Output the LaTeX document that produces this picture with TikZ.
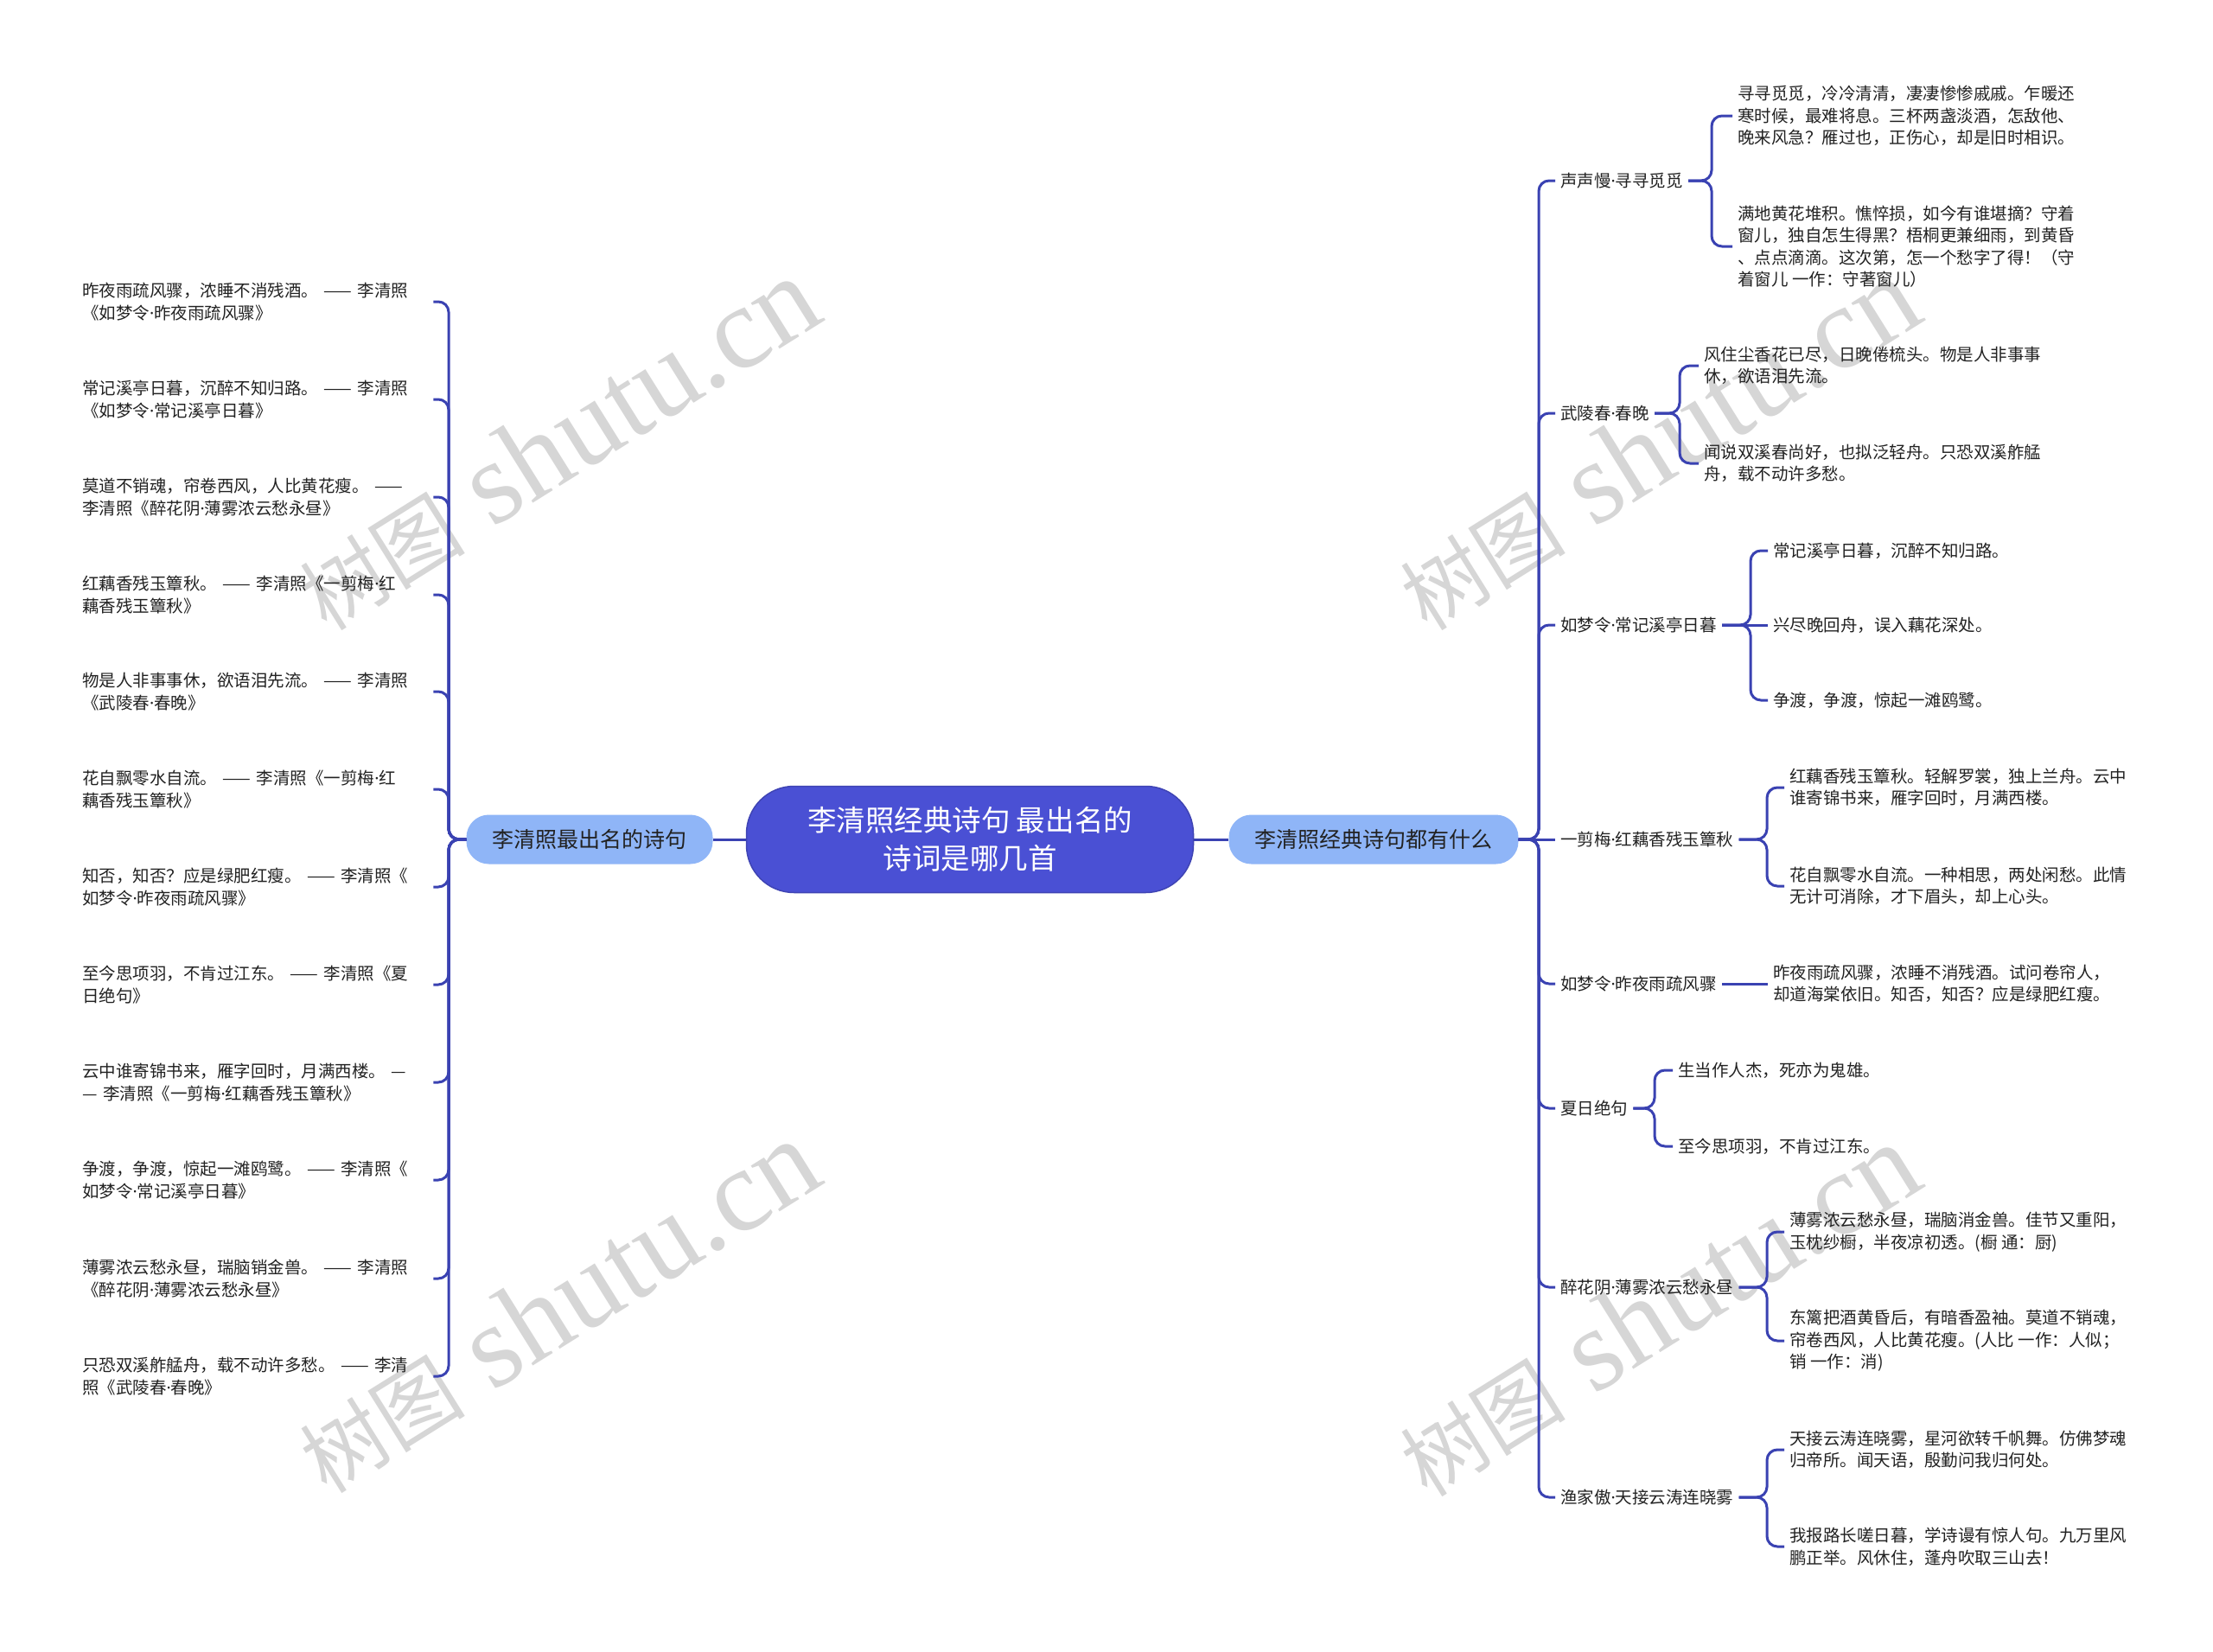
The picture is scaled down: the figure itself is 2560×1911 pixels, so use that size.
\documentclass[tikz,border=0pt]{standalone}
\usepackage{fontspec}
\setmainfont{Noto Sans CJK SC}
\newfontfamily\wmfont{Liberation Serif}
\newfontfamily\dotfont{Noto Sans}
\newcommand\mdot{{\dotfont ·}}
\usetikzlibrary{positioning}
\definecolor{hubblue}{RGB}{74,80,212}
\definecolor{subblue}{RGB}{143,181,247}
\definecolor{linkblue}{RGB}{58,66,178}
\definecolor{txt}{RGB}{34,34,34}

\begin{document}
\begin{tikzpicture}[x=1pt, y=-1pt,
	hub/.style = {rectangle, rounded corners=55pt, draw=hubblue!85!black, fill=hubblue, text=white, line width=1.5pt, minimum width=517pt, minimum height=123pt, align=center, font=\fontsize{33.5}{44}\selectfont},
	sub/.style = {rectangle, rounded corners=26pt, fill=subblue, text=txt, inner xsep=30pt, minimum height=57pt, font=\fontsize{25}{30}\selectfont},
	lbl/.style = {anchor=west, inner xsep=6pt, text=txt, font=\fontsize{19.5}{25.5}\selectfont},
	leaf/.style = {lbl, align=left},
	lleaf/.style = {leaf, inner xsep=8pt, text width=398pt},
	r/.style = {draw=linkblue, line width=3pt, rounded corners=12pt},
	wm/.style = {text=black!16, rotate=32, inner sep=0pt}
	]

	\path[use as bounding box, fill=white] (0,0) rectangle (2560,1911);

	% ===== ===== ===== ===== =====

	% Watermarks
	\node[wm]	(wm1)	at	(645, 514)	{{\fontsize{96}{96}\selectfont 树图}{\wmfont\fontsize{136}{136}\selectfont ~shutu.cn}};
	\node[wm]	(wm2)	at	(1918, 514)	{{\fontsize{96}{96}\selectfont 树图}{\wmfont\fontsize{136}{136}\selectfont ~shutu.cn}};
	\node[wm]	(wm3)	at	(645, 1512)	{{\fontsize{96}{96}\selectfont 树图}{\wmfont\fontsize{136}{136}\selectfont ~shutu.cn}};
	\node[wm]	(wm4)	at	(1918, 1516)	{{\fontsize{96}{96}\selectfont 树图}{\wmfont\fontsize{136}{136}\selectfont ~shutu.cn}};

	% ===== ===== ===== ===== =====

	% Nodes
	\node[hub]	(root)	at	(1122, 971)	{李清照经典诗句~最出名的\\诗词是哪几首};
	\node[sub]	(left)	at	(682, 971)	{李清照最出名的诗句};
	\node[sub]	(right)	at	(1589, 971)	{李清照经典诗句都有什么};

	% Lines
	\draw[r]	(root.west)	--	(left.east);
	\draw[r]	(root.east)	--	(right.west);

	% ===== ===== ===== ===== =====

	% Nodes
	\node[lleaf]	(p1)	at	(87, 349)	{昨夜雨疏风骤，浓睡不消残酒。~——~李清照\\《如梦令\mdot 昨夜雨疏风骤》};
	\node[lleaf]	(p2)	at	(87, 462)	{常记溪亭日暮，沉醉不知归路。~——~李清照\\《如梦令\mdot 常记溪亭日暮》};
	\node[lleaf]	(p3)	at	(87, 575)	{莫道不销魂，帘卷西风，人比黄花瘦。~——\\李清照《醉花阴\mdot 薄雾浓云愁永昼》};
	\node[lleaf]	(p4)	at	(87, 688)	{红藕香残玉簟秋。~——~李清照《一剪梅\mdot 红\\藕香残玉簟秋》};
	\node[lleaf]	(p5)	at	(87, 800)	{物是人非事事休，欲语泪先流。~——~李清照\\《武陵春\mdot 春晚》};
	\node[lleaf]	(p6)	at	(87, 913)	{花自飘零水自流。~——~李清照《一剪梅\mdot 红\\藕香残玉簟秋》};
	\node[lleaf]	(p7)	at	(87, 1026)	{知否，知否？应是绿肥红瘦。~——~李清照《\\如梦令\mdot 昨夜雨疏风骤》};
	\node[lleaf]	(p8)	at	(87, 1139)	{至今思项羽，不肯过江东。~——~李清照《夏\\日绝句》};
	\node[lleaf]	(p9)	at	(87, 1252)	{云中谁寄锦书来，雁字回时，月满西楼。~—\\—~李清照《一剪梅\mdot 红藕香残玉簟秋》};
	\node[lleaf]	(p10)	at	(87, 1365)	{争渡，争渡，惊起一滩鸥鹭。~——~李清照《\\如梦令\mdot 常记溪亭日暮》};
	\node[lleaf]	(p11)	at	(87, 1479)	{薄雾浓云愁永昼，瑞脑销金兽。~——~李清照\\《醉花阴\mdot 薄雾浓云愁永昼》};
	\node[lleaf]	(p12)	at	(87, 1592)	{只恐双溪舴艋舟，载不动许多愁。~——~李清\\照《武陵春\mdot 春晚》};

	\coordinate	(lj)	at	(519, 971);

	% Lines
	\foreach \i in {1,...,12}
		\draw[r]	(left.west)	--	(lj)	|-	(p\i.east);

	% ===== ===== ===== ===== =====

	% Nodes
	\node[lbl]	(a)	at	(1799, 209)		{声声慢\mdot 寻寻觅觅};
	\node[lbl]	(b)	at	(1799, 478)		{武陵春\mdot 春晚};
	\node[lbl]	(c)	at	(1799, 723)		{如梦令\mdot 常记溪亭日暮};
	\node[lbl]	(d)	at	(1799, 971)		{一剪梅\mdot 红藕香残玉簟秋};
	\node[lbl]	(e)	at	(1799, 1138)	{如梦令\mdot 昨夜雨疏风骤};
	\node[lbl]	(f)	at	(1799, 1282)	{夏日绝句};
	\node[lbl]	(g)	at	(1799, 1489)	{醉花阴\mdot 薄雾浓云愁永昼};
	\node[lbl]	(h)	at	(1799, 1732)	{渔家傲\mdot 天接云涛连晓雾};

	\coordinate	(rj)	at	(1780, 971);

	% Lines
	\foreach \n in {a,b,c,e,f,g,h}
		\draw[r]	(right.east)	--	(rj)	|-	(\n.west);
	\draw[r]	(right.east)	--	(d.west);

	% ===== ===== ===== ===== =====

	% Nodes
	\node[leaf]	(a1)	at	(2004, 134)	{寻寻觅觅，冷冷清清，凄凄惨惨戚戚。乍暖还\\寒时候，最难将息。三杯两盏淡酒，怎敌他、\\晚来风急？雁过也，正伤心，却是旧时相识。};
	\node[leaf]	(a2)	at	(2004, 285)	{满地黄花堆积。憔悴损，如今有谁堪摘？守着\\窗儿，独自怎生得黑？梧桐更兼细雨，到黄昏\\、点点滴滴。这次第，怎一个愁字了得！（守\\着窗儿~一作：守著窗儿）};

	\node[leaf]	(b1)	at	(1965, 423)	{风住尘香花已尽，日晚倦梳头。物是人非事事\\休，欲语泪先流。};
	\node[leaf]	(b2)	at	(1965, 536)	{闻说双溪春尚好，也拟泛轻舟。只恐双溪舴艋\\舟，载不动许多愁。};

	\node[leaf]	(c1)	at	(2045, 637)	{常记溪亭日暮，沉醉不知归路。};
	\node[leaf]	(c2)	at	(2045, 723)	{兴尽晚回舟，误入藕花深处。};
	\node[leaf]	(c3)	at	(2045, 810)	{争渡，争渡，惊起一滩鸥鹭。};

	\node[leaf]	(d1)	at	(2064, 911)	{红藕香残玉簟秋。轻解罗裳，独上兰舟。云中\\谁寄锦书来，雁字回时，月满西楼。};
	\node[leaf]	(d2)	at	(2064, 1025)	{花自飘零水自流。一种相思，两处闲愁。此情\\无计可消除，才下眉头，却上心头。};

	\node[leaf]	(e1)	at	(2045, 1138)	{昨夜雨疏风骤，浓睡不消残酒。试问卷帘人，\\却道海棠依旧。知否，知否？应是绿肥红瘦。};

	\node[leaf]	(f1)	at	(1935, 1238)	{生当作人杰，死亦为鬼雄。};
	\node[leaf]	(f2)	at	(1935, 1326)	{至今思项羽，不肯过江东。};

	\node[leaf]	(g1)	at	(2064, 1425)	{薄雾浓云愁永昼，瑞脑消金兽。佳节又重阳，\\玉枕纱橱，半夜凉初透。(橱~通：厨)};
	\node[leaf]	(g2)	at	(2064, 1551)	{东篱把酒黄昏后，有暗香盈袖。莫道不销魂，\\帘卷西风，人比黄花瘦。(人比~一作：人似；\\销~一作：消)};

	\node[leaf]	(h1)	at	(2064, 1677)	{天接云涛连晓雾，星河欲转千帆舞。仿佛梦魂\\归帝所。闻天语，殷勤问我归何处。};
	\node[leaf]	(h2)	at	(2064, 1789)	{我报路长嗟日暮，学诗谩有惊人句。九万里风\\鹏正举。风休住，蓬舟吹取三山去！};

	\coordinate	(aj)	at	(1980, 209);
	\coordinate	(bj)	at	(1943, 478);
	\coordinate	(cj)	at	(2025, 723);
	\coordinate	(dj)	at	(2044, 971);
	\coordinate	(fj)	at	(1914, 1282);
	\coordinate	(gj)	at	(2044, 1489);
	\coordinate	(hj)	at	(2044, 1732);

	% Lines
	\draw[r]	(a.east)	--	(aj)	|-	(a1.west);
	\draw[r]	(a.east)	--	(aj)	|-	(a2.west);
	\draw[r]	(b.east)	--	(bj)	|-	(b1.west);
	\draw[r]	(b.east)	--	(bj)	|-	(b2.west);
	\draw[r]	(c.east)	--	(cj)	|-	(c1.west);
	\draw[r]	(c.east)	--	(c2.west);
	\draw[r]	(c.east)	--	(cj)	|-	(c3.west);
	\draw[r]	(d.east)	--	(dj)	|-	(d1.west);
	\draw[r]	(d.east)	--	(dj)	|-	(d2.west);
	\draw[r]	(e.east)	--	(e1.west);
	\draw[r]	(f.east)	--	(fj)	|-	(f1.west);
	\draw[r]	(f.east)	--	(fj)	|-	(f2.west);
	\draw[r]	(g.east)	--	(gj)	|-	(g1.west);
	\draw[r]	(g.east)	--	(gj)	|-	(g2.west);
	\draw[r]	(h.east)	--	(hj)	|-	(h1.west);
	\draw[r]	(h.east)	--	(hj)	|-	(h2.west);

\end{tikzpicture}
\end{document}
